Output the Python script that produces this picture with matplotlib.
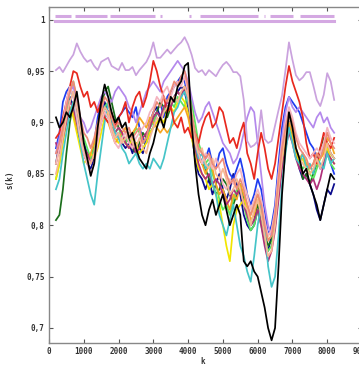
import numpy as np
import matplotlib.pyplot as plt

# sample positions k (every 100)
k = np.arange(200, 8201, 100)

violet = [0.951, 0.954, 0.949, 0.955, 0.961, 0.966, 0.977, 0.969, 0.963, 0.959,
          0.961, 0.955, 0.951, 0.959, 0.961, 0.963, 0.955, 0.953, 0.951, 0.958,
          0.951, 0.951, 0.954, 0.946, 0.951, 0.955, 0.959, 0.966, 0.978, 0.963,
          0.963, 0.967, 0.971, 0.967, 0.971, 0.975, 0.978, 0.983, 0.976, 0.966,
          0.953, 0.949, 0.951, 0.946, 0.951, 0.948, 0.945, 0.951, 0.956, 0.959,
          0.955, 0.949, 0.949, 0.945, 0.922, 0.882, 0.876, 0.878, 0.882, 0.912,
          0.884, 0.880, 0.882, 0.897, 0.912, 0.926, 0.951, 0.978, 0.961, 0.946,
          0.941, 0.944, 0.949, 0.949, 0.936, 0.922, 0.916, 0.927, 0.948, 0.940,
          0.922]

black = [0.905, 0.895, 0.900, 0.910, 0.905, 0.915, 0.930, 0.905, 0.880, 0.865,
         0.848, 0.860, 0.895, 0.920, 0.937, 0.925, 0.910, 0.900, 0.905, 0.895,
         0.900, 0.885, 0.890, 0.875, 0.865, 0.860, 0.855, 0.870, 0.880, 0.895,
         0.905, 0.895, 0.910, 0.925, 0.920, 0.935, 0.940, 0.955, 0.958, 0.900,
         0.860, 0.830, 0.810, 0.800, 0.815, 0.825, 0.810, 0.820, 0.830, 0.815,
         0.800, 0.810, 0.820, 0.810, 0.765, 0.760, 0.765, 0.755, 0.750, 0.735,
         0.720, 0.700, 0.688, 0.700, 0.760, 0.830, 0.875, 0.910, 0.895, 0.875,
         0.865, 0.850, 0.855, 0.840, 0.830, 0.820, 0.805, 0.820, 0.835, 0.850,
         0.845]

red = [0.885, 0.890, 0.905, 0.920, 0.935, 0.950, 0.948, 0.935, 0.925, 0.930,
       0.915, 0.920, 0.910, 0.920, 0.905, 0.900, 0.910, 0.895, 0.905, 0.910,
       0.920, 0.900, 0.915, 0.925, 0.930, 0.915, 0.925, 0.940, 0.960, 0.950,
       0.935, 0.925, 0.910, 0.915, 0.900, 0.895, 0.905, 0.890, 0.895, 0.885,
       0.890, 0.880, 0.895, 0.905, 0.910, 0.895, 0.900, 0.915, 0.910, 0.895,
       0.880, 0.885, 0.875, 0.890, 0.900, 0.870, 0.860, 0.845, 0.870, 0.890,
       0.875, 0.855, 0.845, 0.860, 0.885, 0.910, 0.935, 0.955, 0.940, 0.930,
       0.920, 0.905, 0.880, 0.865, 0.870, 0.860, 0.875, 0.890, 0.880, 0.875,
       0.885]

cyan = [0.835, 0.845, 0.870, 0.890, 0.910, 0.920, 0.905, 0.880, 0.860, 0.845,
        0.830, 0.820, 0.850, 0.875, 0.900, 0.920, 0.905, 0.890, 0.885, 0.875,
        0.870, 0.860, 0.865, 0.870, 0.860, 0.855, 0.860, 0.855, 0.865, 0.860,
        0.855, 0.865, 0.880, 0.895, 0.910, 0.915, 0.925, 0.930, 0.920, 0.900,
        0.880, 0.865, 0.870, 0.855, 0.860, 0.840, 0.830, 0.810, 0.800, 0.790,
        0.805, 0.820, 0.800, 0.780, 0.770, 0.755, 0.745, 0.770, 0.800, 0.820,
        0.800, 0.760, 0.740, 0.750, 0.790, 0.840, 0.870, 0.895, 0.880, 0.865,
        0.860, 0.870, 0.855, 0.860, 0.850, 0.865, 0.860, 0.855, 0.870, 0.860,
        0.865]

blue = [0.875, 0.890, 0.920, 0.930, 0.935, 0.925, 0.910, 0.895, 0.880, 0.870,
        0.865, 0.880, 0.905, 0.920, 0.915, 0.910, 0.900, 0.895, 0.905, 0.910,
        0.915, 0.910, 0.905, 0.915, 0.895, 0.885, 0.880, 0.890, 0.895, 0.910,
        0.920, 0.905, 0.925, 0.930, 0.935, 0.940, 0.945, 0.940, 0.925, 0.900,
        0.875, 0.870, 0.860, 0.865, 0.875, 0.860, 0.855, 0.870, 0.875, 0.860,
        0.850, 0.845, 0.855, 0.865, 0.850, 0.830, 0.820, 0.830, 0.845, 0.835,
        0.815, 0.790, 0.800, 0.820, 0.860, 0.895, 0.915, 0.925, 0.920, 0.915,
        0.910, 0.900, 0.890, 0.880, 0.875, 0.865, 0.855, 0.860, 0.875, 0.860,
        0.850]

navy = [0.860, 0.880, 0.900, 0.915, 0.925, 0.915, 0.895, 0.880, 0.870, 0.860,
        0.855, 0.865, 0.890, 0.905, 0.920, 0.910, 0.895, 0.885, 0.890, 0.880,
        0.875, 0.880, 0.870, 0.880, 0.875, 0.870, 0.885, 0.900, 0.910, 0.915,
        0.905, 0.910, 0.915, 0.920, 0.925, 0.930, 0.935, 0.930, 0.915, 0.890,
        0.865, 0.850, 0.845, 0.835, 0.845, 0.830, 0.840, 0.850, 0.835, 0.825,
        0.835, 0.850, 0.840, 0.830, 0.810, 0.800, 0.795, 0.800, 0.815, 0.805,
        0.785, 0.775, 0.790, 0.815, 0.845, 0.875, 0.895, 0.905, 0.885, 0.870,
        0.855, 0.845, 0.850, 0.840, 0.830, 0.815, 0.805, 0.820, 0.835, 0.830,
        0.840]

dkgreen = [0.805, 0.810, 0.835, 0.870, 0.900, 0.920, 0.910, 0.890, 0.875, 0.870,
           0.865, 0.875, 0.895, 0.915, 0.930, 0.935, 0.920, 0.905, 0.895, 0.890,
           0.880, 0.885, 0.875, 0.870, 0.880, 0.890, 0.885, 0.895, 0.905, 0.910,
           0.920, 0.915, 0.905, 0.915, 0.925, 0.930, 0.925, 0.935, 0.920, 0.905,
           0.890, 0.870, 0.860, 0.855, 0.845, 0.840, 0.830, 0.835, 0.845, 0.840,
           0.830, 0.820, 0.830, 0.840, 0.825, 0.810, 0.800, 0.805, 0.820, 0.810,
           0.795, 0.780, 0.785, 0.800, 0.830, 0.860, 0.880, 0.895, 0.885, 0.870,
           0.865, 0.845, 0.850, 0.840, 0.850, 0.860, 0.875, 0.885, 0.880, 0.870,
           0.865]

salmon = [0.870, 0.880, 0.895, 0.915, 0.930, 0.940, 0.925, 0.905, 0.890, 0.885,
          0.875, 0.885, 0.900, 0.910, 0.925, 0.920, 0.905, 0.895, 0.900, 0.895,
          0.890, 0.895, 0.885, 0.890, 0.895, 0.880, 0.885, 0.900, 0.910, 0.920,
          0.915, 0.925, 0.920, 0.930, 0.940, 0.935, 0.945, 0.950, 0.935, 0.910,
          0.890, 0.875, 0.870, 0.865, 0.870, 0.860, 0.855, 0.860, 0.865, 0.850,
          0.840, 0.845, 0.835, 0.845, 0.835, 0.820, 0.810, 0.820, 0.830, 0.820,
          0.800, 0.785, 0.790, 0.810, 0.845, 0.875, 0.895, 0.910, 0.900, 0.885,
          0.875, 0.870, 0.865, 0.855, 0.860, 0.870, 0.865, 0.875, 0.890, 0.880,
          0.875]

peach = [0.850, 0.865, 0.885, 0.905, 0.920, 0.930, 0.915, 0.895, 0.875, 0.865,
         0.860, 0.870, 0.890, 0.905, 0.915, 0.910, 0.895, 0.885, 0.890, 0.880,
         0.885, 0.890, 0.880, 0.875, 0.885, 0.875, 0.870, 0.885, 0.895, 0.905,
         0.900, 0.910, 0.915, 0.920, 0.925, 0.920, 0.930, 0.935, 0.925, 0.900,
         0.880, 0.870, 0.875, 0.860, 0.855, 0.865, 0.850, 0.845, 0.855, 0.845,
         0.830, 0.835, 0.845, 0.835, 0.820, 0.815, 0.800, 0.815, 0.825, 0.810,
         0.790, 0.770, 0.775, 0.800, 0.835, 0.865, 0.890, 0.905, 0.895, 0.875,
         0.865, 0.860, 0.855, 0.850, 0.855, 0.865, 0.855, 0.865, 0.880, 0.870,
         0.865]

orange = [0.860, 0.875, 0.890, 0.905, 0.915, 0.910, 0.895, 0.885, 0.870, 0.860,
          0.870, 0.880, 0.895, 0.910, 0.905, 0.900, 0.890, 0.880, 0.885, 0.890,
          0.895, 0.885, 0.890, 0.895, 0.905, 0.900, 0.895, 0.905, 0.900, 0.895,
          0.890, 0.895, 0.890, 0.895, 0.900, 0.905, 0.910, 0.915, 0.905, 0.890,
          0.875, 0.865, 0.860, 0.850, 0.860, 0.855, 0.840, 0.830, 0.835, 0.825,
          0.815, 0.830, 0.825, 0.840, 0.830, 0.820, 0.805, 0.810, 0.825, 0.815,
          0.800, 0.790, 0.795, 0.810, 0.840, 0.870, 0.885, 0.900, 0.890, 0.875,
          0.865, 0.870, 0.860, 0.855, 0.860, 0.870, 0.865, 0.870, 0.885, 0.880,
          0.870]

yellow = [0.845, 0.860, 0.880, 0.900, 0.915, 0.905, 0.890, 0.875, 0.860, 0.865,
          0.870, 0.865, 0.875, 0.890, 0.905, 0.910, 0.895, 0.885, 0.880, 0.885,
          0.880, 0.875, 0.885, 0.880, 0.870, 0.875, 0.880, 0.890, 0.895, 0.900,
          0.905, 0.900, 0.910, 0.915, 0.910, 0.920, 0.925, 0.920, 0.910, 0.885,
          0.870, 0.855, 0.850, 0.845, 0.835, 0.840, 0.830, 0.820, 0.800, 0.780,
          0.765, 0.800, 0.815, 0.820, 0.825, 0.815, 0.810, 0.820, 0.830, 0.820,
          0.800, 0.785, 0.790, 0.810, 0.840, 0.865, 0.880, 0.895, 0.885, 0.870,
          0.860, 0.865, 0.855, 0.850, 0.855, 0.860, 0.865, 0.870, 0.875, 0.865,
          0.860]

lime = [0.845, 0.860, 0.885, 0.910, 0.930, 0.940, 0.920, 0.900, 0.885, 0.875,
        0.865, 0.875, 0.890, 0.905, 0.915, 0.920, 0.905, 0.890, 0.895, 0.885,
        0.880, 0.890, 0.885, 0.895, 0.890, 0.880, 0.885, 0.895, 0.900, 0.910,
        0.905, 0.915, 0.910, 0.920, 0.915, 0.925, 0.920, 0.915, 0.930, 0.920,
        0.900, 0.880, 0.870, 0.860, 0.865, 0.850, 0.840, 0.825, 0.815, 0.820,
        0.810, 0.825, 0.835, 0.840, 0.820, 0.805, 0.795, 0.800, 0.815, 0.800,
        0.785, 0.775, 0.780, 0.800, 0.835, 0.860, 0.885, 0.900, 0.890, 0.875,
        0.860, 0.855, 0.860, 0.850, 0.845, 0.855, 0.865, 0.875, 0.870, 0.860,
        0.855]

purple = [0.870, 0.885, 0.900, 0.915, 0.930, 0.935, 0.920, 0.905, 0.900, 0.890,
          0.895, 0.905, 0.915, 0.925, 0.930, 0.925, 0.920, 0.930, 0.935, 0.930,
          0.925, 0.915, 0.910, 0.900, 0.910, 0.920, 0.930, 0.935, 0.940, 0.935,
          0.930, 0.940, 0.945, 0.950, 0.955, 0.960, 0.955, 0.950, 0.940, 0.925,
          0.910, 0.900, 0.905, 0.915, 0.920, 0.910, 0.900, 0.890, 0.880, 0.875,
          0.870, 0.860, 0.865, 0.875, 0.890, 0.905, 0.915, 0.910, 0.880, 0.850,
          0.820, 0.800, 0.790, 0.810, 0.850, 0.885, 0.910, 0.925, 0.915, 0.910,
          0.915, 0.910, 0.905, 0.900, 0.895, 0.905, 0.910, 0.900, 0.905, 0.895,
          0.890]

pink = [0.860, 0.875, 0.900, 0.920, 0.935, 0.925, 0.905, 0.885, 0.870, 0.860,
        0.850, 0.860, 0.880, 0.900, 0.910, 0.905, 0.890, 0.880, 0.875, 0.885,
        0.890, 0.880, 0.875, 0.885, 0.890, 0.895, 0.900, 0.910, 0.915, 0.925,
        0.920, 0.930, 0.935, 0.925, 0.935, 0.940, 0.935, 0.945, 0.930, 0.905,
        0.885, 0.870, 0.860, 0.870, 0.865, 0.855, 0.865, 0.855, 0.840, 0.835,
        0.845, 0.840, 0.850, 0.855, 0.840, 0.830, 0.815, 0.825, 0.835, 0.825,
        0.805, 0.790, 0.795, 0.815, 0.850, 0.880, 0.900, 0.915, 0.905, 0.890,
        0.880, 0.875, 0.870, 0.865, 0.870, 0.875, 0.870, 0.880, 0.895, 0.885,
        0.880]

magenta = [0.880, 0.870, 0.885, 0.900, 0.920, 0.915, 0.900, 0.885, 0.875, 0.870,
           0.860, 0.870, 0.885, 0.900, 0.910, 0.905, 0.895, 0.890, 0.895, 0.890,
           0.880, 0.875, 0.880, 0.870, 0.875, 0.885, 0.890, 0.895, 0.905, 0.910,
           0.905, 0.915, 0.920, 0.915, 0.925, 0.930, 0.925, 0.935, 0.920, 0.895,
           0.875, 0.860, 0.850, 0.845, 0.850, 0.840, 0.845, 0.840, 0.830, 0.820,
           0.825, 0.835, 0.830, 0.835, 0.820, 0.810, 0.800, 0.805, 0.815, 0.800,
           0.780, 0.765, 0.775, 0.795, 0.825, 0.855, 0.875, 0.890, 0.880, 0.865,
           0.855, 0.850, 0.845, 0.840, 0.845, 0.835, 0.845, 0.860, 0.870, 0.865,
           0.860]

# top reference lines: dashed segments (k ranges) and a full line
seg_level = 1.004
segments = [(170, 630), (750, 1670), (1760, 3050), (3200, 3250), (4030, 4080),
            (4350, 6010), (6170, 6220), (6360, 7020), (7220, 8192)]
full_level = 0.9985
full_range = (170, 8192)

series = [
    (navy, '#0a0a8c'), (blue, '#1e3cf0'), (dkgreen, '#1b6e1b'), (lime, '#5ce65c'),
    (yellow, '#f2e600'), (orange, '#f5a623'), (magenta, '#b0307a'), (cyan, '#45c4c8'),
    (purple, '#b488ec'), (red, '#e8281e'), (pink, '#f4b4c0'), (peach, '#f6b894'),
    (salmon, '#ee8a78'), (black, '#000000'), (violet, '#caa2de'),
]

fig = plt.figure(figsize=(3.59, 3.66), dpi=100)
ax = fig.add_axes([49 / 359, 23 / 366, 313 / 359, 336 / 366])

for vals, col in series:
    ax.plot(k, vals, color=col, lw=1.25)

for a, b in segments:
    ax.plot([a, b], [seg_level, seg_level], color='#d4a8e2', lw=2.2, solid_capstyle='butt')
ax.plot(full_range, [full_level, full_level], color='#d4a8e2', lw=2.2)

ax.set_xlim(0, 9000)
ax.set_ylim(0.6854, 1.0124)
ax.set_xticks(range(0, 9001, 1000))
ax.set_yticks([0.7, 0.75, 0.8, 0.85, 0.9, 0.95, 1.0])
ax.set_yticklabels(['0,7', '0,75', '0,8', '0,85', '0,9', '0,95', '1'])
ax.tick_params(direction='in', length=3, width=0.8, color='#555555',
               top=True, right=True, labelsize=5.5, labelcolor='#333333', pad=3)
for lab in ax.get_xticklabels() + ax.get_yticklabels():
    lab.set_fontfamily('DejaVu Sans Mono')
    lab.set_fontweight('bold')
for s in ax.spines.values():
    s.set_color('#888888')
    s.set_linewidth(1.0)

fig.text(10 / 359, 1 - 180 / 366, 's(k)', rotation=90, fontsize=5.5,
         family='DejaVu Sans Mono', fontweight='bold', color='#333333',
         ha='center', va='center')
fig.text(203 / 359, 1 - 362 / 366, 'k', fontsize=5.5, family='DejaVu Sans Mono',
         fontweight='bold', color='#333333', ha='center', va='center')

fig.savefig('out.png', dpi=100)
